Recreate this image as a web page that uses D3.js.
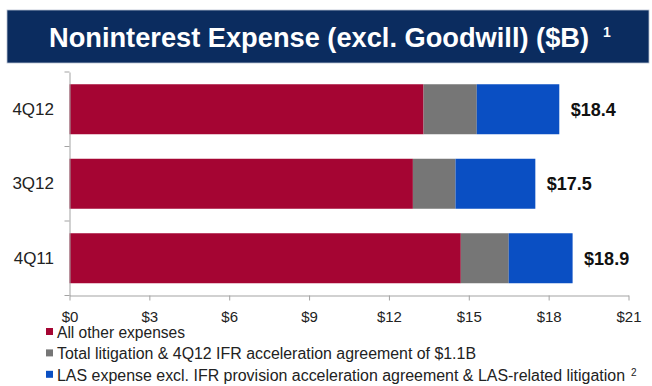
<!DOCTYPE html>
<html>
<head>
<meta charset="utf-8">
<script src="https://cdn.jsdelivr.net/npm/d3@7"></script>
<style>
  html, body { margin: 0; padding: 0; background: #fff; }
  svg { display: block; font-family: "Liberation Sans", Arial, sans-serif; }
</style>
</head>
<body>
<svg id="chart" width="652" height="386"></svg>
<script>
// Quarters, top to bottom
const quarters = ["4Q12", "3Q12", "4Q11"];
// Expense components ($B)
const otherExpenses = [13.3, 12.9, 14.7];
const litigation = [2.0, 1.6, 1.8];
const lasExpense = [3.1, 3.0, 2.4];
// Axis ticks
const xTicks = [0, 3, 6, 9, 12, 15, 18, 21];
const seriesNames = [
  "All other expenses",
  "Total litigation & 4Q12 IFR acceleration agreement of $1.1B",
  "LAS expense excl. IFR provision acceleration agreement & LAS-related litigation"
];
const seriesColors = ["#a50533", "#767676", "#0a4fc3"];

const rows = quarters.map((q, i) => ({
  q, values: [otherExpenses[i], litigation[i], lasExpense[i]]
}));

const svg = d3.select("#chart");

// Title banner
svg.append("rect")
  .attr("x", 7).attr("y", 10).attr("width", 642).attr("height", 53)
  .attr("fill", "#0b2c5f").attr("stroke", "#b9c2d2").attr("stroke-width", 0.8);
svg.append("text")
  .attr("x", 49).attr("y", 46.5)
  .attr("fill", "#fff").attr("font-size", 28).attr("font-weight", "bold")
  .attr("textLength", 540).attr("lengthAdjust", "spacingAndGlyphs")
  .text("Noninterest Expense (excl. Goodwill) ($B)");
svg.append("text")
  .attr("x", 603).attr("y", 37)
  .attr("fill", "#fff").attr("font-size", 14).attr("font-weight", "bold")
  .text("1");

const x = d3.scaleLinear().domain([0, 21]).range([69.5, 628.5]);
const y = d3.scaleBand().domain(quarters).range([72, 295.5])
  .paddingInner(0.329).paddingOuter(0.1645);

// Stacked bars
const g = svg.append("g");
rows.forEach(r => {
  let acc = 0;
  r.values.forEach((v, k) => {
    g.append("rect")
      .attr("x", x(acc))
      .attr("y", y(r.q))
      .attr("width", x(acc + v) - x(acc))
      .attr("height", y.bandwidth())
      .attr("fill", seriesColors[k]);
    acc += v;
  });
  // Total label
  const total = d3.sum(r.values);
  svg.append("text")
    .attr("x", x(total) + 11.5)
    .attr("y", y(r.q) + y.bandwidth() / 2)
    .attr("dy", "0.35em")
    .attr("font-size", 18).attr("font-weight", "bold").attr("fill", "#111")
    .text("$" + total.toFixed(1));
});

const axisColor = "#a3a3a3";

// Y axis: category labels
const yAxis = svg.append("g")
  .attr("transform", `translate(${x(0)},0)`)
  .call(d3.axisLeft(y).tickSize(0).tickPadding(15.5));
yAxis.select(".domain").attr("stroke", axisColor);
yAxis.selectAll("text").attr("font-size", 17).attr("fill", "#222")
  .attr("font-family", "Liberation Sans, Arial, sans-serif");
// boundary ticks between categories
const bounds = [y.range()[0]].concat(quarters.map(q => y(q) + y.bandwidth() + y.step() * y.paddingInner() / 2));
svg.append("g").selectAll("line").data(bounds).join("line")
  .attr("x1", x(0) - 5).attr("x2", x(0))
  .attr("y1", d => d).attr("y2", d => d)
  .attr("stroke", axisColor);

// X axis
const xAxis = svg.append("g")
  .attr("transform", `translate(0,${y.range()[1]})`)
  .call(d3.axisBottom(x).tickValues(xTicks).tickFormat(d => "$" + d)
    .tickSizeInner(5).tickSizeOuter(0).tickPadding(10.5));
xAxis.selectAll("path, line").attr("stroke", axisColor);
xAxis.selectAll("text").attr("font-size", 15).attr("fill", "#222")
  .attr("font-family", "Liberation Sans, Arial, sans-serif");

// Legend
const legendWidths = [128, 419, 568];
const legend = svg.append("g");
seriesNames.forEach((name, k) => {
  const yy = 328 + k * 21.4;
  legend.append("rect")
    .attr("x", 46).attr("y", yy).attr("width", 7).attr("height", 7)
    .attr("fill", seriesColors[k]);
  legend.append("text")
    .attr("x", 57).attr("y", yy + 9.7)
    .attr("font-size", 16).attr("fill", "#222")
    .attr("textLength", legendWidths[k]).attr("lengthAdjust", "spacingAndGlyphs")
    .text(name);
});
legend.append("text")
  .attr("x", 631).attr("y", 376)
  .attr("font-size", 10).attr("fill", "#222")
  .text("2");
</script>
</body>
</html>
